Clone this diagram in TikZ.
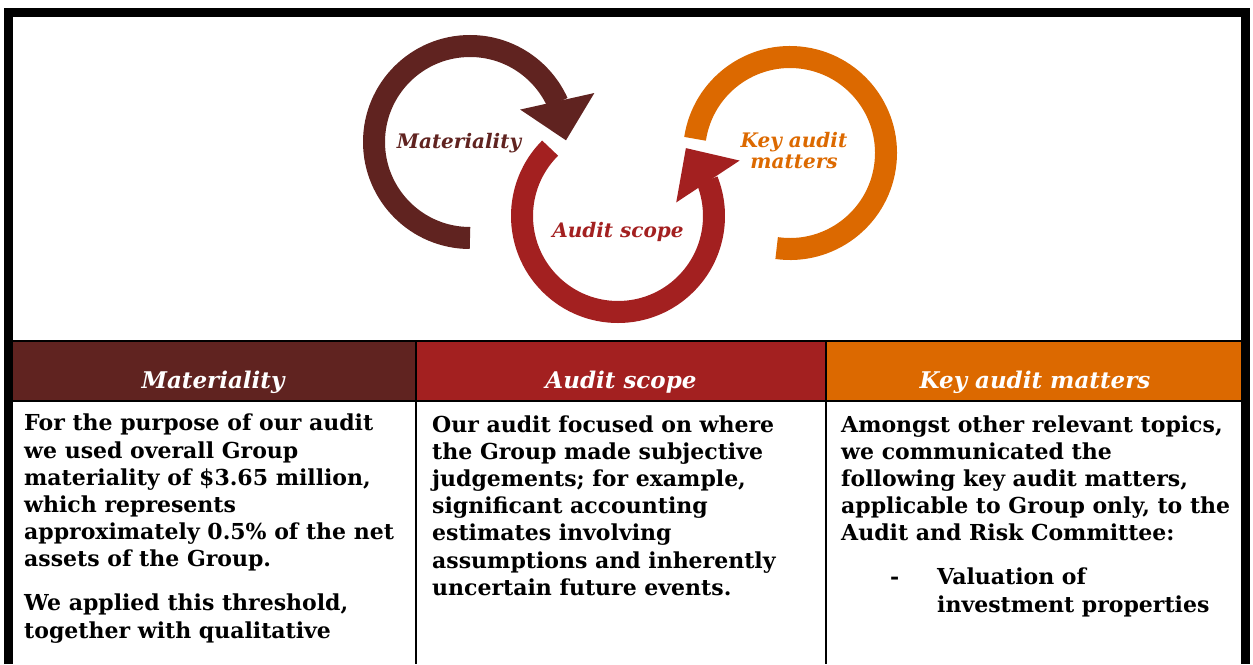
\documentclass[tikz,border=0pt]{standalone}
\usepackage{fontspec}
\setmainfont{DejaVu Serif}
\usetikzlibrary{arrows.meta,bending,positioning}
\definecolor{matcol}{HTML}{602320}
\definecolor{scopecol}{HTML}{A32020}
\definecolor{kamcol}{HTML}{DC6900}
\tikzset{
    ring/.style={
           line width=22pt,
           },
    ringtip/.style={
           -{Triangle[width=76pt,length=40pt,line width=0pt,flex]},
           },
    ringlabel/.style={
           font=\bfseries\itshape\fontsize{20}{21}\selectfont,
           align=center,
           inner sep=0pt,
           },
    header/.style={
           text=white,
           font=\bfseries\itshape\fontsize{23}{24}\selectfont,
           inner sep=0pt,
           anchor=base,
           },
    bodytext/.style={
           font=\bfseries\fontsize{22}{27.2}\selectfont,
           align=left,
           inner sep=0pt,
           anchor=base west,  % base = last line
           },
    rule/.style={
           line width=2pt,
           },
}

\begin{document}
\begin{tikzpicture}[x=1pt,y=1pt]
    \useasboundingbox (0,0) rectangle (1253,-664);

    % circles: Materiality -> Audit scope -> Key audit matters
    \draw[ring, ringtip, matcol] (470,-142) ++(270:96)
        arc[start angle=270, end angle=1, radius=96];
    \draw[ring, ringtip, scopecol] (618,-216) ++(135:96)
        arc[start angle=135, end angle=405, radius=96];
    \draw[ring, kamcol] (790,-153) ++(171.5:96)
        arc[start angle=171.5, end angle=-98, radius=96];

    \node[ringlabel, text=matcol, anchor=base] (matlabel) at (459,-148) {Materiality};
    \node[ringlabel, text=scopecol, anchor=base] (scopelabel) at (618,-237) {Audit scope};
    \node[ringlabel, text=kamcol, anchor=base] (kamlabel) at (794,-168) {Key audit\\matters};

    % header row
    \fill[matcol]   (13,-342)  rectangle (416,-400);
    \fill[scopecol] (416,-342) rectangle (826,-400);
    \fill[kamcol]   (826,-342) rectangle (1242,-400);

    \node[header] (mathead)   at (213,-388)  {Materiality};
    \node[header] (scopehead) at (621,-388)  {Audit scope};
    \node[header] (kamhead)   at (1035,-388) {Key audit matters};

    % table rules
    \draw[rule] (13,-341) -- (1242,-341);
    \draw[rule] (13,-401) -- (1242,-401);
    \draw[rule] (416,-341) -- (416,-664);
    \draw[rule] (826,-341) -- (826,-664);

    % outer frame, open at the bottom
    \draw[line width=9pt, miter limit=10] (8.5,-664) -- (8.5,-12.5) -- (1245.5,-12.5) -- (1245.5,-664);

    % body text
    \node[bodytext] (matbody) at (24,-638)
        {For the purpose of our audit\\
         we used overall Group\\
         materiality of \$3.65 million,\\
         which represents\\
         approximately 0.5\% of the net\\
         assets of the Group.\\[16.8pt]
         We applied this threshold,\\
         together with qualitative};
    \node[bodytext] (scopebody) at (432,-595.2)
        {Our audit focused on where\\
         the Group made subjective\\
         judgements; for example,\\
         significant accounting\\
         estimates involving\\
         assumptions and inherently\\
         uncertain future events.};
    \node[bodytext] (kambody) at (841,-540.8)
        {Amongst other relevant topics,\\
         we communicated the\\
         following key audit matters,\\
         applicable to Group only, to the\\
         Audit and Risk Committee:};
    \node[bodytext] (kamdash) at (890,-584) {-};
    \node[bodytext] (kamitem) at (937,-612)
        {Valuation of\\
         investment properties};
\end{tikzpicture}
\end{document}
